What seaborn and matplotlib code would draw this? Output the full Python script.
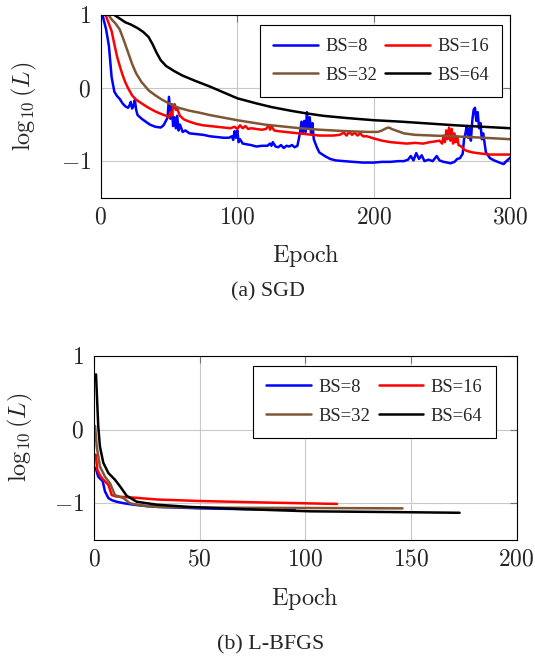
import numpy as np
import pandas as pd
import matplotlib
matplotlib.use("Agg")
import matplotlib.pyplot as plt
from matplotlib.ticker import FuncFormatter
import seaborn as sns

# ---------------- SGD ----------------
sgd_b8_ep = [0, 2, 4, 6, 8, 10, 12, 14, 16, 18, 20, 21, 22, 23, 24, 25, 26, 27, 30, 33, 36,
             40, 44, 46, 48, 49, 50, 51, 52, 53, 54, 55, 56, 57, 58, 60, 62, 65, 70, 75, 80,
             85, 90, 94, 96, 97, 98, 99, 100, 101, 102, 104, 107, 110, 114, 118, 122, 124,
             125, 126, 128, 130, 132, 134, 136, 138, 140, 142, 144, 145, 146, 147, 148, 149,
             150, 151, 152, 153, 154, 155, 156, 158, 160, 164, 168, 172, 178, 185, 192, 200,
             206, 212, 218, 222, 225, 227, 229, 231, 233, 235, 237, 240, 243, 246, 248, 251,
             254, 256, 259, 261, 263, 265, 266, 267, 268, 269, 270, 271, 272, 273, 274, 275,
             276, 277, 278, 279, 280, 282, 285, 288, 292, 295, 297, 300]
sgd_b8 = [1.15, 0.95, 0.80, 0.58, 0.15, -0.05, -0.11, -0.15, -0.21, -0.25, -0.27, -0.24,
          -0.19, -0.28, -0.25, -0.16, -0.30, -0.37, -0.42, -0.46, -0.50, -0.53, -0.54, -0.51,
          -0.44, -0.40, -0.12, -0.42, -0.22, -0.52, -0.40, -0.55, -0.38, -0.58, -0.50, -0.60,
          -0.58, -0.62, -0.63, -0.64, -0.66, -0.67, -0.68, -0.68, -0.66, -0.71, -0.59, -0.68,
          -0.58, -0.74, -0.70, -0.76, -0.77, -0.78, -0.80, -0.79, -0.79, -0.76, -0.79, -0.74,
          -0.80, -0.81, -0.78, -0.82, -0.79, -0.80, -0.78, -0.81, -0.79, -0.70, -0.60, -0.46,
          -0.62, -0.45, -0.60, -0.33, -0.55, -0.40, -0.62, -0.48, -0.70, -0.80, -0.88, -0.93,
          -0.97, -0.99, -1.00, -1.01, -1.02, -1.02, -1.01, -1.01, -1.00, -1.00, -0.98, -0.93,
          -0.99, -0.89, -0.97, -0.92, -1.00, -0.98, -1.00, -0.93, -0.99, -1.01, -1.02, -1.03,
          -1.01, -0.97, -0.96, -0.90, -0.70, -0.62, -0.52, -0.68, -0.55, -0.72, -0.45, -0.30,
          -0.27, -0.45, -0.33, -0.55, -0.48, -0.70, -0.62, -0.88, -0.96, -0.99, -1.02, -1.04,
          -1.00, -0.95]

sgd_b16_ep = [0, 2, 4, 6, 8, 10, 12, 14, 16, 18, 20, 23, 26, 30, 35, 40, 45, 48, 50, 51, 52,
              53, 54, 55, 56, 58, 61, 65, 70, 75, 80, 85, 90, 95, 98, 100, 102, 104, 106, 108,
              110, 114, 118, 121, 123, 124, 125, 127, 130, 135, 140, 145, 150, 155, 160, 165,
              170, 175, 178, 180, 182, 184, 186, 188, 190, 192, 195, 200, 206, 212, 218, 224,
              230, 236, 241, 245, 248, 250, 251, 252, 253, 254, 255, 256, 257, 258, 259, 260,
              261, 262, 264, 266, 268, 272, 276, 280, 285, 290, 295, 300]
sgd_b16 = [1.25, 1.12, 0.98, 0.88, 0.78, 0.60, 0.43, 0.30, 0.18, 0.08, 0.00, -0.10, -0.16,
           -0.21, -0.27, -0.32, -0.36, -0.38, -0.40, -0.33, -0.38, -0.26, -0.22, -0.30, -0.28,
           -0.38, -0.43, -0.46, -0.49, -0.51, -0.52, -0.53, -0.54, -0.55, -0.53, -0.56, -0.51,
           -0.55, -0.52, -0.56, -0.55, -0.56, -0.57, -0.56, -0.51, -0.57, -0.52, -0.58, -0.59,
           -0.60, -0.61, -0.62, -0.63, -0.64, -0.65, -0.65, -0.65, -0.64, -0.61, -0.65, -0.60,
           -0.64, -0.61, -0.65, -0.62, -0.66, -0.66, -0.69, -0.72, -0.74, -0.75, -0.76, -0.75,
           -0.76, -0.74, -0.73, -0.72, -0.76, -0.65, -0.74, -0.58, -0.70, -0.54, -0.72, -0.56,
           -0.76, -0.62, -0.74, -0.66, -0.78, -0.80, -0.84, -0.86, -0.88, -0.89, -0.90, -0.91,
           -0.91, -0.91, -0.91]

sgd_b32_ep = [0, 3, 5, 8, 11, 14, 17, 20, 23, 26, 30, 35, 40, 45, 50, 57, 65, 73, 80, 100,
              120, 146, 160, 180, 195, 203, 206, 209, 211, 213, 216, 219, 222, 230, 250, 270,
              285, 300]
sgd_b32 = [1.30, 1.12, 1.02, 0.94, 0.88, 0.80, 0.65, 0.49, 0.33, 0.20, 0.08, -0.03, -0.10,
           -0.16, -0.21, -0.27, -0.31, -0.34, -0.37, -0.44, -0.50, -0.55, -0.57, -0.59, -0.60,
           -0.60, -0.58, -0.55, -0.54, -0.56, -0.58, -0.60, -0.62, -0.64, -0.655, -0.67,
           -0.685, -0.70]

sgd_b64_ep = [0, 5, 10, 14, 18, 22, 27, 31, 35, 38, 41, 44, 48, 54, 60, 69, 80, 90, 100, 114,
              125, 139, 150, 163, 180, 200, 220, 236, 260, 280, 300]
sgd_b64 = [1.40, 1.20, 1.00, 0.95, 0.90, 0.87, 0.82, 0.77, 0.70, 0.60, 0.48, 0.38, 0.30,
           0.23, 0.17, 0.10, 0.02, -0.06, -0.14, -0.21, -0.26, -0.31, -0.345, -0.38, -0.41,
           -0.44, -0.46, -0.48, -0.51, -0.53, -0.55]

# ---------------- L-BFGS ----------------
lb_b8_ep = [0.8, 2, 3, 4.1, 5.2, 6.8, 8.5, 10.7, 14, 18.6, 25, 30, 40, 50, 70, 95]
lb_b8 = [-0.52, -0.64, -0.67, -0.70, -0.84, -0.93, -0.96, -0.98, -1.00, -1.02, -1.04, -1.05,
         -1.06, -1.07, -1.08, -1.08]
lb_b16_ep = [0.8, 1.6, 3, 4.4, 6.8, 8.4, 10.7, 17, 30, 50, 80, 115]
lb_b16 = [-0.34, -0.55, -0.63, -0.68, -0.75, -0.89, -0.91, -0.92, -0.95, -0.97, -0.99, -1.01]
lb_b32_ep = [0.5, 1.3, 2.8, 5.2, 7.6, 9.9, 13.9, 17, 21.8, 30, 50, 100, 146]
lb_b32 = [0.05, -0.23, -0.50, -0.64, -0.73, -0.89, -0.93, -1.00, -1.03, -1.05, -1.06, -1.065,
          -1.07]
lb_b64_ep = [0.95, 2, 2.8, 4.4, 6.8, 9.9, 12.3, 15.5, 20.2, 29.7, 45, 70, 102, 140, 173]
lb_b64 = [0.75, 0.05, -0.23, -0.45, -0.59, -0.68, -0.77, -0.90, -0.98, -1.02, -1.05, -1.08,
          -1.11, -1.12, -1.13]

etiquetas = ["BS=8", "BS=16", "BS=32", "BS=64"]
colores = {"BS=8": "#0000ff", "BS=16": "#ff0000", "BS=32": "#7f5634", "BS=64": "#000000"}


def a_tabla(series):
    partes = []
    for nombre, (ep, val) in zip(etiquetas, series):
        partes.append(pd.DataFrame({"Epoch": ep, "logL": val, "BS": nombre}))
    return pd.concat(partes, ignore_index=True)


df_sgd = a_tabla([(sgd_b8_ep, sgd_b8), (sgd_b16_ep, sgd_b16),
                  (sgd_b32_ep, sgd_b32), (sgd_b64_ep, sgd_b64)])
df_lb = a_tabla([(lb_b8_ep, lb_b8), (lb_b16_ep, lb_b16),
                 (lb_b32_ep, lb_b32), (lb_b64_ep, lb_b64)])

sns.set_theme(style="white")
plt.rcParams["mathtext.fontset"] = "cm"
plt.rcParams["font.family"] = ["Liberation Serif", "DejaVu Serif"]

fig = plt.figure(figsize=(5.35, 6.6), dpi=100)
ax1 = fig.add_axes([0.1882, 0.7005, 0.766, 0.2768])
ax2 = fig.add_axes([0.1757, 0.1818, 0.790, 0.2788])

fmt = FuncFormatter(lambda v, p: r"$%d$" % round(v) if v >= 0 else r"$-%d$" % round(-v))


def estilo(ax, df, xmax, xticks, ylab_x, ylab_y, ancla):
    sns.lineplot(data=df, x="Epoch", y="logL", hue="BS", hue_order=etiquetas,
                 palette=colores, estimator=None, sort=False, linewidth=1.8, ax=ax)
    ax.set_xlim(0, xmax)
    ax.set_ylim(-1.5, 1)
    ax.set_xticks(xticks)
    ax.set_yticks([-1, 0, 1])
    ax.xaxis.set_major_formatter(fmt)
    ax.yaxis.set_major_formatter(fmt)
    ax.grid(True, color="#c8c8c8", linewidth=0.8)
    ax.set_axisbelow(True)
    for s in ax.spines.values():
        s.set_color("black")
        s.set_linewidth(0.8)
    ax.tick_params(direction="in", length=5, width=0.8, color="0.45",
                   top=True, right=True, labelsize=17, pad=7)
    ax.set_xlabel(r"$\mathrm{Epoch}$", fontsize=17.5)
    ax.set_ylabel(r"$\log_{10}(L)$", fontsize=17.5)
    ax.xaxis.set_label_coords(0.5, -0.245)
    ax.yaxis.set_label_coords(ylab_x, ylab_y)
    h, l = ax.get_legend_handles_labels()
    orden = [0, 2, 1, 3]
    leg = ax.legend([h[i] for i in orden], [l[i] for i in orden], ncol=2,
                    loc="upper right", bbox_to_anchor=ancla, borderaxespad=0,
                    fontsize=13.4, handlelength=2.4, columnspacing=0.45,
                    handletextpad=0.4, labelspacing=0.62, fancybox=False,
                    framealpha=1, edgecolor="black", borderpad=0.7)
    leg.get_frame().set_linewidth(0.8)


estilo(ax1, df_sgd, 300, [0, 100, 200, 300], -0.15, 0.5, (0.98, 0.945))
estilo(ax2, df_lb, 200, [0, 50, 100, 150, 200], -0.14, 0.56, (0.95, 0.946))

fig.text(267.5 / 535, 1 - 292 / 660, "(a) SGD", ha="center", va="center", fontsize=15.8)
fig.text(270.7 / 535, 1 - 645 / 660, "(b) L-BFGS", ha="center", va="center", fontsize=15.8)

fig.savefig("out.png", dpi=100)
